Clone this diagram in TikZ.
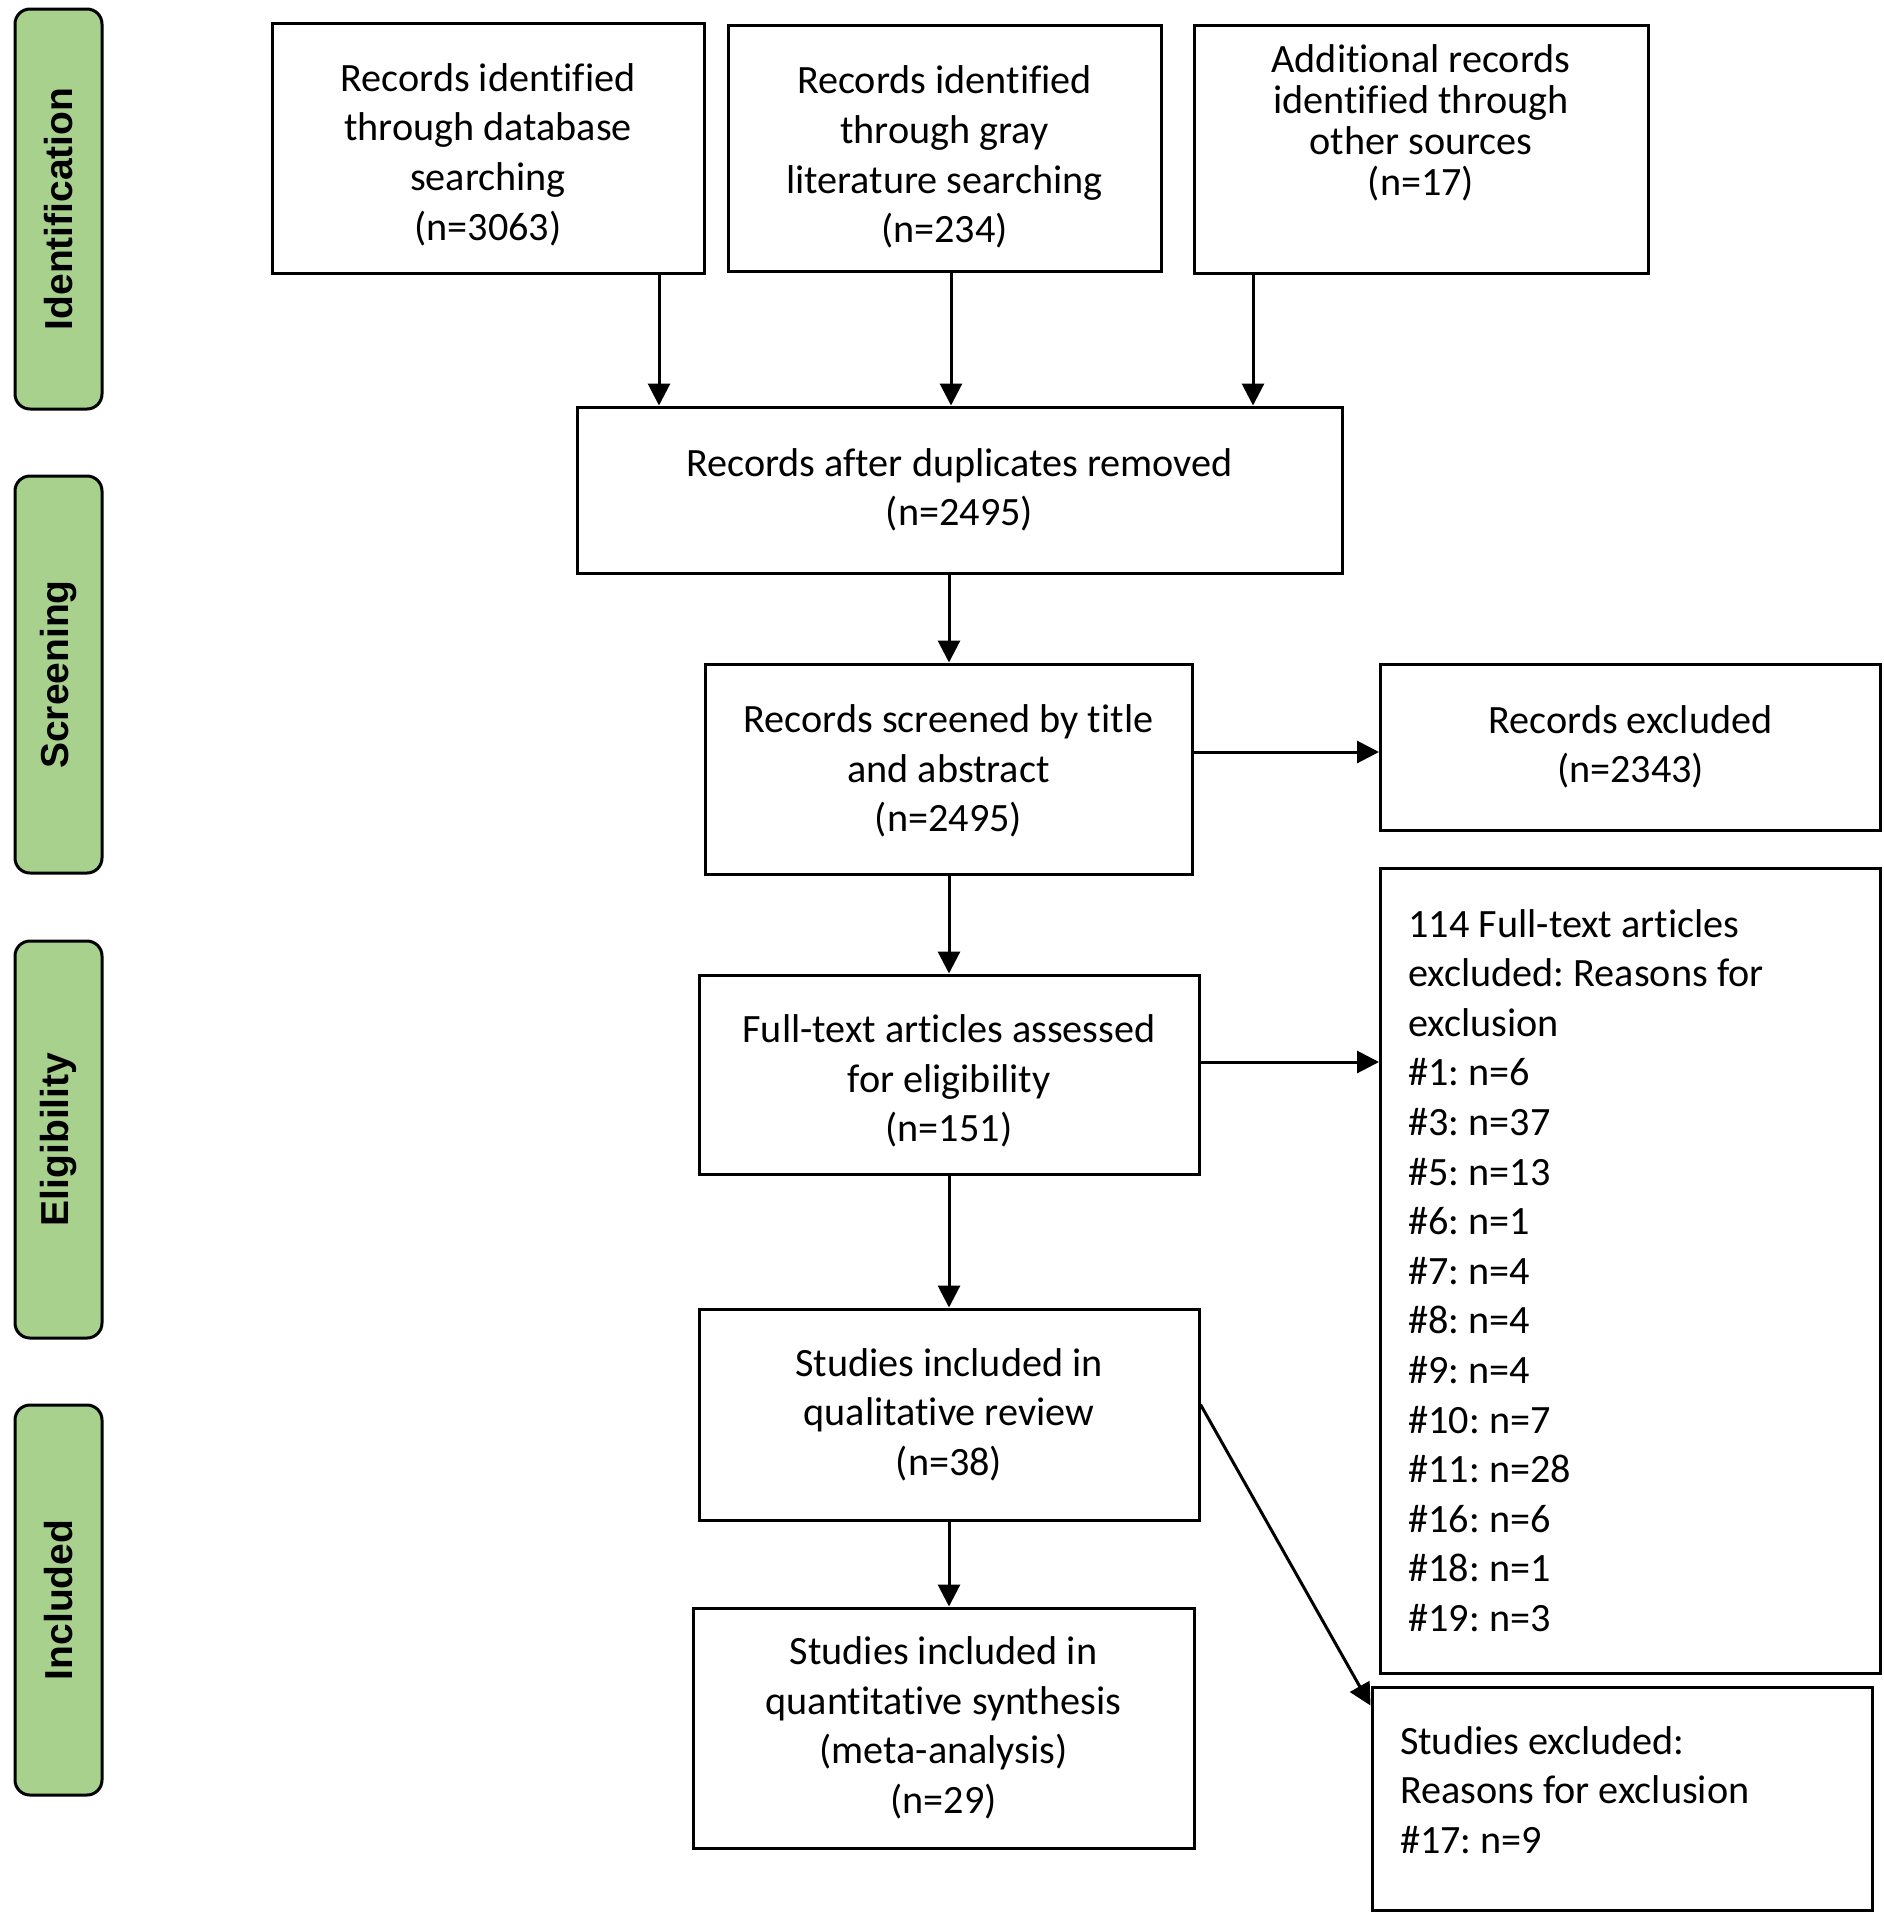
\documentclass[tikz,border=0pt]{standalone}
\usepackage{graphicx}
\usepackage{fontspec}
\setmainfont{Carlito}[Ligatures={NoCommon}]
\newfontfamily\labfont{Liberation Sans}
\usetikzlibrary{arrows.meta,calc}
\definecolor{phasegreen}{HTML}{A9D18E}
\newcommand\upstrut[1]{\rule{0pt}{#1pt}}
\newcommand\dnstrut[1]{\rule[-#1pt]{0pt}{1pt}}
\frenchspacing
\begin{document}
\begin{tikzpicture}[x=1pt,y=-1pt,
  box/.style={draw=black, line width=3pt, inner sep=0pt, align=center,
    font=\frenchspacing\fontsize{40.2}{49.6}\selectfont},
  leftbox/.style={box, align=flush left, inner xsep=28pt},
  phase/.style={draw=black, fill=phasegreen, line width=3pt, rounded corners=15pt,
    minimum width=87pt, inner sep=0pt, font=\labfont\bfseries\fontsize{39}{40}\selectfont},
  arr/.style={line width=3pt, -{Triangle[length=22pt,width=22pt]}},
]
\useasboundingbox (0,0) rectangle (1883,1920);
\fill[white] (0,0) rectangle (1883,1920);

% phase labels
\node[phase, minimum height=400pt] (pid) at (58.5,209) {\rotatebox{90}{Identification}};
\node[phase, minimum height=397pt] (pscr) at (58.5,674.5) {\rotatebox{90}{Screening}};
\node[phase, minimum height=397pt] (peli) at (58.5,1139.5) {\rotatebox{90}{Eligibility}};
\node[phase, minimum height=390pt] (pinc) at (58.5,1600) {\rotatebox{90}{Included}};

% boxes
\node[box, minimum width=432pt, minimum height=250pt] (b1) at (488,148)
  {\upstrut{41}Records identified\\through database\\searching\\(n=3063)};
\node[box, minimum width=433pt, minimum height=246pt] (b2) at (944.5,148)
  {\upstrut{46}Records identified\\through gray\\literature searching\\(n=234)};
\node[box, minimum width=454pt, minimum height=248pt] (b3) at (1421,149)
  {\parbox[t][242pt][t]{440pt}{\centering\fontsize{40.2}{41}\selectfont\rule{0pt}{44pt}Additional records\\identified through\\other sources\\(n=17)}};
\node[box, minimum width=765pt, minimum height=166pt] (b4) at (959.5,490)
  {Records after duplicates removed\\(n=2495)};
\node[box, minimum width=487pt, minimum height=210pt] (b5) at (948.5,769)
  {\upstrut{32}Records screened by title\\and abstract\\(n=2495)};
\node[box, minimum width=500pt, minimum height=166pt] (rex) at (1630.5,747)
  {Records excluded\\(n=2343)};
\node[box, minimum width=500pt, minimum height=199pt] (b6) at (949,1074.5)
  {\upstrut{41}Full-text articles assessed\\for eligibility\\(n=151)};
\node[leftbox, text width=444pt, minimum height=805pt] (ex) at (1630.5,1270.5)
  {114 Full-text articles\\excluded: Reasons for\\exclusion\\\#1: n=6\\\#3: n=37\\\#5: n=13\\\#6: n=1\\\#7: n=4\\\#8: n=4\\\#9: n=4\\\#10: n=7\\\#11: n=28\\\#16: n=6\\\#18: n=1\\\#19: n=3};
\node[box, minimum width=500pt, minimum height=211pt] (b7) at (949,1414.5)
  {Studies included in\\qualitative review\\(n=38)};
\node[box, minimum width=501pt, minimum height=240pt] (b8) at (943.5,1728)
  {Studies included in\\quantitative synthesis\\(meta-analysis)\\(n=29)};
\node[leftbox, text width=444pt, minimum height=223pt] (sex) at (1622,1798.5)
  {Studies excluded:\\Reasons for exclusion\\\#17: n=9\dnstrut{17}};

% connectors
\coordinate (xa) at (659,0);
\coordinate (xb) at (951,0);
\coordinate (xc) at (1253,0);
\coordinate (xm) at (949,0);
\coordinate (ya) at (0,752);
\coordinate (yb) at (0,1062);
\draw[arr] (b1.south -| xa) -- (b4.north -| xa);
\draw[arr] (b2.south -| xb) -- (b4.north -| xb);
\draw[arr] (b3.south -| xc) -- (b4.north -| xc);
\draw[arr] (b4.south -| xm) -- (b5.north -| xm);
\draw[arr] (b5.south -| xm) -- (b6.north -| xm);
\draw[arr] (b6.south -| xm) -- (b7.north -| xm);
\draw[arr] (b7.south -| xm) -- (b8.north -| xm);
\draw[arr] (b5.east |- ya) -- (rex.west |- ya);
\draw[arr] (b6.east |- yb) -- (ex.west |- yb);
\draw[arr] ([yshift=10pt]b7.east) -- ([yshift=-20pt]sex.north west);
\end{tikzpicture}
\end{document}
